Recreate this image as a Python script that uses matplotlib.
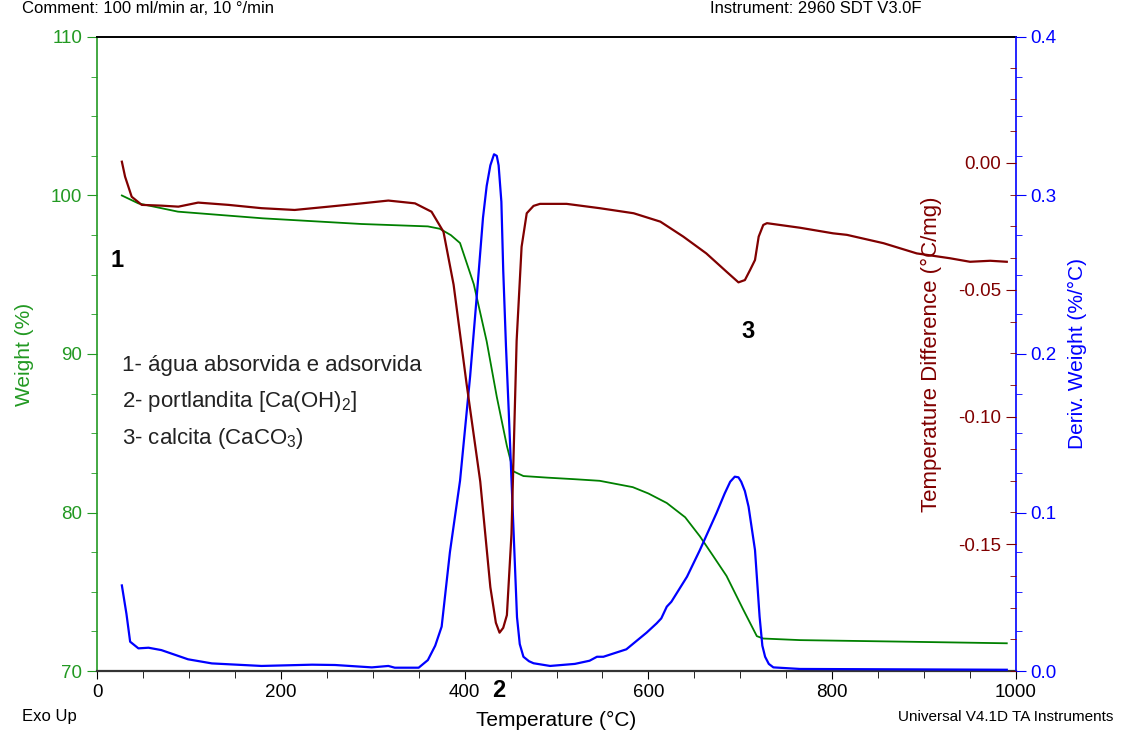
import numpy as np
import matplotlib
matplotlib.use("Agg")
import matplotlib.pyplot as plt
from matplotlib.ticker import MultipleLocator, FormatStrFormatter

plt.rcParams['font.family'] = ['Liberation Sans', 'DejaVu Sans']
plt.rcParams['axes.unicode_minus'] = False

# weight (TGA) curve
temp_w = [27, 45, 88, 180, 288, 360, 373, 385, 395, 410, 424, 435, 446, 453, 464,
          490, 520, 547, 583, 600, 620, 640, 656, 670, 685, 703, 718, 725, 765, 880, 990]
weight = [100.0, 99.5, 98.98, 98.56, 98.2, 98.05, 97.9, 97.5, 97.0, 94.4, 90.8, 87.3, 84.2, 82.6, 82.3,
          82.2, 82.1, 82.0, 81.6, 81.2, 80.6, 79.7, 78.5, 77.3, 76.0, 73.9, 72.2, 72.05, 71.95, 71.85, 71.75]

# derivative weight (DTG) curve
temp_d = [27, 32, 36, 45, 56, 70, 99, 125, 179, 234, 259, 299, 317, 324, 350, 360, 368, 375,
          384, 395, 406, 413, 420, 424, 428, 432, 435, 437, 440, 442, 445, 448, 453, 457, 460,
          464, 470, 475, 493, 520,
          536, 544, 551, 576, 598, 609, 614, 620, 625, 642, 656, 674, 683, 689, 694, 698, 701, 705, 709,
          716, 721, 724, 727, 731, 736, 765, 990]
deriv = [0.054, 0.036, 0.0185, 0.0143, 0.0147, 0.0132, 0.0074, 0.0048, 0.0032, 0.004, 0.0038,
         0.0023, 0.0032, 0.0021, 0.0021, 0.0069, 0.016, 0.028,
         0.075, 0.12, 0.186, 0.235, 0.286, 0.306, 0.319, 0.326, 0.325, 0.319, 0.296, 0.253,
         0.205, 0.164, 0.092, 0.034, 0.017,
         0.009, 0.0062, 0.0049, 0.0032, 0.0045,
         0.0065, 0.009, 0.009, 0.0137, 0.0242, 0.0301, 0.0332, 0.0406, 0.0437, 0.0595, 0.0763,
         0.0995, 0.112, 0.1194, 0.1226, 0.1222, 0.1194, 0.1135, 0.1037,
         0.0763, 0.0343, 0.016, 0.009, 0.0045, 0.0023, 0.0013, 0.0008]

# temperature difference (DTA) curve
temp_t = [27, 30.5, 37.7, 48.6, 70, 88.5, 110, 143, 179, 215, 252, 288, 317, 346, 364, 377,
          388, 402, 417, 428, 434, 438, 442, 446, 451, 456.6, 462, 467.6, 475, 482, 511, 547, 584,
          613, 638, 663, 685, 698, 705, 710.7, 716, 720, 725, 729, 765, 801, 816, 856,
          892, 928, 950, 972, 990]
tdiff = [0.0005, -0.0054, -0.0133, -0.0165, -0.0168, -0.0172, -0.0156, -0.0165, -0.0178,
         -0.0185, -0.0172, -0.0159, -0.0148, -0.0159, -0.0192, -0.0271,
         -0.0479, -0.0866, -0.1254, -0.167, -0.181, -0.1849, -0.183, -0.178, -0.146, -0.07,
         -0.033, -0.0198, -0.0169, -0.0161, -0.0161, -0.0178, -0.0198,
         -0.0231, -0.029, -0.0356, -0.0428, -0.047, -0.0461, -0.0421, -0.0382, -0.029,
         -0.0244, -0.0237, -0.0255, -0.0277, -0.0283, -0.0316,
         -0.0356, -0.0375, -0.0389, -0.0385, -0.0389]

legend_lines = ['1- água absorvida e adsorvida',
                r'2- portlandita [Ca(OH)$\mathregular{_2}$]',
                r'3- calcita (CaCO$\mathregular{_3}$)']

green = '#008000'
green_lbl = '#229922'
blue = '#0000ff'
red = '#800000'

fig = plt.figure(figsize=(11.22, 7.32), dpi=100)
ax = fig.add_axes([0.0865, 0.0833, 0.819, 0.8662])
ax2 = ax.twinx()
ax3 = ax.twinx()

ax.plot(temp_w, weight, color=green, lw=1.3)
ax3.plot(temp_t, tdiff, color=red, lw=1.6)
ax2.plot(temp_d, deriv, color=blue, lw=1.6)

# x axis
ax.set_xlim(0, 1000)
ax.xaxis.set_major_locator(MultipleLocator(200))
ax.xaxis.set_minor_locator(MultipleLocator(50))
ax.tick_params(axis='x', which='major', length=6, labelsize=13.5, colors='black')
ax.tick_params(axis='x', which='minor', length=5)
ax.set_xlabel('Temperature (°C)', fontsize=15, labelpad=7)

# weight axis
ax.set_ylim(70, 110)
ax.yaxis.set_major_locator(MultipleLocator(10))
ax.yaxis.set_minor_locator(MultipleLocator(2.5))
ax.tick_params(axis='y', which='major', length=7, labelsize=13.5, colors=green_lbl)
ax.tick_params(axis='y', which='minor', length=4, colors=green_lbl)
ax.set_ylabel('Weight (%)', fontsize=15, color=green_lbl, labelpad=12)
ax.spines['left'].set_color(green_lbl)
ax.spines['left'].set_linewidth(1.2)
ax.spines['bottom'].set_color('#333333')
ax.spines['bottom'].set_linewidth(1.6)
ax.spines['top'].set_linewidth(1.4)
ax.spines['right'].set_visible(False)

# deriv axis
ax2.set_ylim(0, 0.4)
ax2.yaxis.set_major_locator(MultipleLocator(0.1))
ax2.yaxis.set_minor_locator(MultipleLocator(0.025))
ax2.tick_params(axis='y', which='major', length=7, labelsize=13.5, colors=blue)
ax2.tick_params(axis='y', which='minor', length=4, colors=blue)
ax2.set_ylabel('Deriv. Weight (%/°C)', fontsize=15, color=blue, labelpad=8)
ax2.spines['right'].set_color(blue)
ax2.spines['right'].set_linewidth(1.2)
for s in ['top', 'left', 'bottom']:
    ax2.spines[s].set_visible(False)

# temperature difference axis, drawn inside on the right
ax3.set_ylim(-0.2, 0.0496)
ax3.yaxis.set_ticks_position('left')
ax3.yaxis.set_label_position('left')
ax3.spines['left'].set_position(('axes', 1.0))
ax3.spines['left'].set_visible(False)
for s in ['top', 'right', 'bottom']:
    ax3.spines[s].set_visible(False)
ax3.set_yticks([-0.15, -0.10, -0.05, 0.00])
ax3.yaxis.set_minor_locator(MultipleLocator(0.0125))
ax3.yaxis.set_major_formatter(FormatStrFormatter('%.2f'))
ax3.tick_params(axis='y', which='major', length=7, labelsize=13.5, colors=red)
ax3.tick_params(axis='y', which='minor', length=4, colors=red)
ax3.set_ylabel('Temperature Difference (°C/mg)', fontsize=16, color=red, labelpad=12)

# annotations
ax.text(22, 95.9, '1', fontsize=17, fontweight='bold', ha='center', va='center')
ax.text(437, 68.75, '2', fontsize=17, fontweight='bold', ha='center', va='center', clip_on=False)
ax.text(708, 91.4, '3', fontsize=17, fontweight='bold', ha='center', va='center')

for i, line in enumerate(legend_lines):
    ax.text(27, 89.3 - i * 2.3, line, fontsize=16, color='#222222', ha='left', va='center')

fig.text(0.02, 0.999, 'Comment: 100 ml/min ar, 10 °/min', fontsize=12, va='top')
fig.text(0.633, 0.999, 'Instrument: 2960 SDT V3.0F', fontsize=12, va='top')
fig.text(0.02, 0.021, 'Exo Up', fontsize=12, va='center')
fig.text(0.992, 0.021, 'Universal V4.1D TA Instruments', fontsize=11, va='center', ha='right')

fig.savefig('out.png', dpi=100)
